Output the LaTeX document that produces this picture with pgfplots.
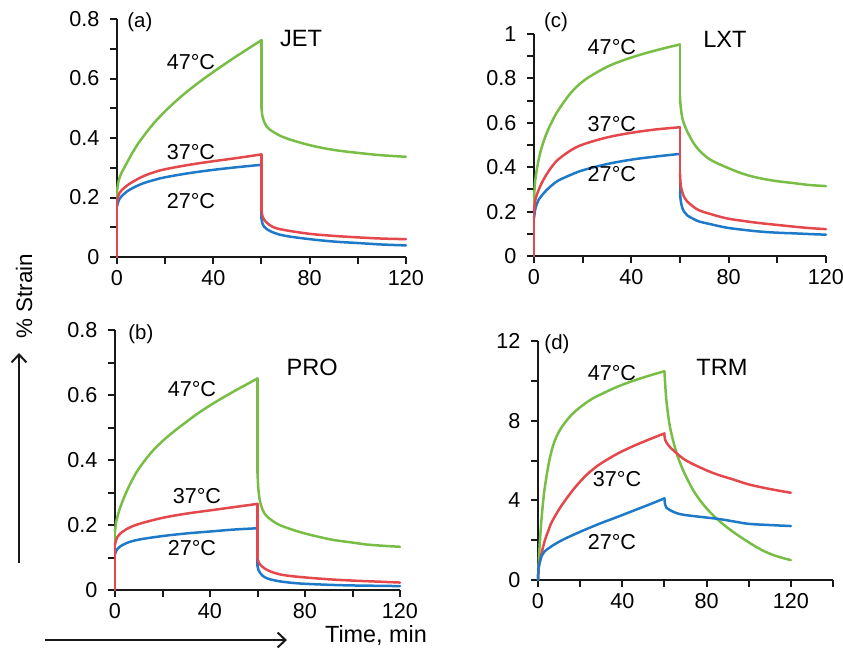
\documentclass[border=0pt]{standalone}
\usepackage{fontspec}
\setmainfont{Liberation Sans}
\usepackage{pgfplots}
\pgfplotsset{compat=1.18}
\usetikzlibrary{arrows.meta}

\definecolor{c47}{RGB}{120,190,70}
\definecolor{c37}{RGB}{228,72,76}
\definecolor{c27}{RGB}{30,122,200}

\pgfplotsset{
  panel/.style={
    scale only axis, axis lines*=left, tick align=outside,
    xmin=0, xmax=120, ymin=0,
    xtick={0,40,80,120}, minor xtick={20,60,100},
    major tick length=3.3pt, minor tick length=3.3pt,
    tick style={line width=1pt, black!90},
    axis line style={line width=1pt, black!90},
    tick label style={font=\fontsize{10.8}{12}\selectfont},
    yticklabel style={xshift=-2pt},
    /pgf/number format/assume math mode=true,
    clip=false, anchor=south west,
  },
  curve/.style={line width=1.25pt, line cap=round, line join=round, no markers},
  sm/.style={curve, smooth, tension=0.6},
}
\newcommand{\lbl}{\fontsize{10.8}{12}\selectfont}
\newcommand{\ttl}{\fontsize{11.8}{13}\selectfont}
\newcommand{\tg}{\fontsize{10.2}{11}\selectfont}

\begin{document}
\begin{tikzpicture}
\useasboundingbox (0,0) rectangle (421.5pt,-325pt);

% (a) JET
\begin{axis}[panel, at={(58.5pt,-128.5pt)}, width=144.5pt, height=119pt,
  ymax=0.8, ytick={0,0.2,0.4,0.6,0.8}, minor ytick={0.1,0.3,0.5,0.7}]
% 47 C
\addplot[curve, c47] coordinates {(0,0) (0,0.22)};
\addplot[sm, c47] coordinates {
 (0,0.22) (0.5,0.25) (1,0.265) (2,0.285) (3,0.30) (5,0.33) (7.5,0.365)
 (10,0.395) (15,0.447) (20,0.49) (25,0.528) (30,0.562) (35,0.593) (40,0.622)
 (45,0.65) (50,0.677) (55,0.703) (60,0.729)};
\addplot[curve, c47] coordinates {(60,0.729) (60,0.50)};
\addplot[sm, c47] coordinates {
 (60,0.50) (60.5,0.47) (62,0.44) (65,0.42) (70,0.40) (80,0.376) (90,0.36)
 (100,0.35) (110,0.342) (120,0.337)};
% 27 C
\addplot[curve, c27] coordinates {(0,0) (0,0.17)};
\addplot[sm, c27] coordinates {
 (0,0.17) (0.5,0.185) (1,0.195) (2,0.205) (5,0.225) (10,0.245) (15,0.258)
 (20,0.268) (30,0.282) (40,0.293) (50,0.302) (60,0.31)};
\addplot[curve, c27] coordinates {(60,0.31) (60,0.13)};
\addplot[sm, c27] coordinates {
 (60,0.13) (60.5,0.11) (62,0.095) (65,0.082) (70,0.071) (80,0.06) (90,0.052)
 (100,0.047) (110,0.042) (120,0.039)};
% 37 C
\addplot[curve, c37] coordinates {(0,0) (0,0.19)};
\addplot[sm, c37] coordinates {
 (0,0.19) (0.5,0.205) (1,0.215) (2,0.225) (5,0.245) (10,0.268) (15,0.284)
 (20,0.295) (30,0.31) (40,0.322) (50,0.333) (60,0.345)};
\addplot[curve, c37] coordinates {(60,0.345) (60,0.16)};
\addplot[sm, c37] coordinates {
 (60,0.16) (60.5,0.135) (62,0.117) (65,0.1) (70,0.09) (80,0.078) (90,0.071)
 (100,0.066) (110,0.062) (120,0.06)};
\node[font=\tg] at (9.5,0.79) {(a)};
\node[font=\ttl] at (76.4,0.733) {JET};
\node[font=\lbl] at (30.7,0.655) {47°C};
\node[font=\lbl] at (30.7,0.353) {37°C};
\node[font=\lbl] at (30.7,0.188) {27°C};
\end{axis}

% (c) LXT
\begin{axis}[panel, at={(267pt,-128pt)}, width=146pt, height=111pt,
  ymax=1, ytick={0,0.2,0.4,0.6,0.8,1}, minor ytick={0.1,0.3,0.5,0.7,0.9}]
% 47 C
\addplot[curve, c47] coordinates {(0,0) (0,0.26)};
\addplot[sm, c47] coordinates {
 (0,0.26) (0.5,0.34) (1,0.38) (2,0.438) (3,0.483) (5,0.548) (7.5,0.608)
 (10,0.657) (15,0.733) (20,0.786) (25,0.822) (30,0.852) (35,0.875) (40,0.894)
 (45,0.911) (50,0.926) (55,0.94) (60,0.953)};
\addplot[curve, c47] coordinates {(60,0.953) (60,0.72)};
\addplot[sm, c47] coordinates {
 (60,0.72) (60.3,0.67) (61,0.62) (62,0.585) (63,0.56) (65.5,0.51) (68,0.475)
 (72.3,0.435) (79,0.40) (86,0.37) (93,0.35) (100,0.337) (107,0.328) (113,0.32) (120,0.315)};
% 27 C
\addplot[curve, c27] coordinates {(0,0) (0,0.17)};
\addplot[sm, c27] coordinates {
 (0,0.17) (0.5,0.21) (1,0.23) (2,0.255) (3,0.27) (5,0.295) (7.5,0.32)
 (10,0.34) (15,0.365) (20,0.386) (30,0.414) (40,0.434) (50,0.448) (60,0.46)};
\addplot[curve, c27] coordinates {(60,0.46) (60,0.29)};
\addplot[sm, c27] coordinates {
 (60,0.29) (60.3,0.25) (61,0.215) (62,0.195) (63,0.183) (65.5,0.167) (68,0.155)
 (72.3,0.144) (79,0.128) (86,0.118) (93,0.11) (100,0.105) (107,0.102) (113,0.099) (120,0.096)};
% 37 C
\addplot[curve, c37] coordinates {(0,0) (0,0.2)};
\addplot[sm, c37] coordinates {
 (0,0.2) (0.5,0.25) (1,0.27) (2,0.3) (3,0.325) (5,0.365) (7.5,0.405)
 (10,0.435) (15,0.475) (20,0.502) (30,0.534) (40,0.555) (50,0.57) (60,0.58)};
\addplot[curve, c37] coordinates {(60,0.58) (60,0.37)};
\addplot[sm, c37] coordinates {
 (60,0.37) (60.3,0.32) (61,0.285) (62,0.26) (63,0.245) (65.5,0.222) (68,0.205)
 (72.3,0.19) (79,0.17) (86,0.158) (93,0.148) (100,0.14) (107,0.132) (113,0.126) (120,0.121)};
\node[font=\tg] at (9,1.054) {(c)};
\node[font=\ttl] at (78.5,0.977) {LXT};
\node[font=\lbl] at (32,0.94) {47°C};
\node[font=\lbl] at (32,0.595) {37°C};
\node[font=\lbl] at (32,0.37) {27°C};
\end{axis}

% (b) PRO
\begin{axis}[panel, at={(57.5pt,-295pt)}, width=142.5pt, height=130pt,
  ymax=0.8, ytick={0,0.2,0.4,0.6,0.8}, minor ytick={0.1,0.3,0.5,0.7}]
% 47 C
\addplot[curve, c47] coordinates {(0,0) (0,0.18)};
\addplot[sm, c47] coordinates {
 (0,0.18) (0.5,0.21) (1,0.225) (2,0.25) (3,0.27) (5,0.305) (7.5,0.342)
 (10,0.373) (15,0.421) (20,0.458) (25,0.489) (30,0.517) (35,0.544) (40,0.568)
 (45,0.59) (50,0.611) (55,0.631) (60,0.651)};
\addplot[curve, c47] coordinates {(60,0.651) (60,0.36)};
\addplot[sm, c47] coordinates {
 (60,0.36) (60.5,0.3) (61.5,0.26) (63,0.235) (65,0.22) (68,0.205) (71,0.195)
 (78,0.178) (85,0.165) (92,0.154) (100,0.146) (106,0.14) (113,0.136) (120,0.133)};
% 27 C
\addplot[curve, c27] coordinates {(0,0) (0,0.11)};
\addplot[sm, c27] coordinates {
 (0,0.11) (0.5,0.12) (1,0.126) (2,0.133) (5,0.145) (10,0.155) (20,0.166)
 (30,0.174) (40,0.18) (50,0.186) (60,0.19)};
\addplot[curve, c27] coordinates {(60,0.19) (60,0.075)};
\addplot[sm, c27] coordinates {
 (60,0.075) (60.5,0.06) (62,0.045) (64,0.036) (67,0.03) (71,0.025) (78,0.02)
 (90,0.016) (100,0.014) (110,0.013) (120,0.012)};
% 37 C
\addplot[curve, c37] coordinates {(0,0) (0,0.14)};
\addplot[sm, c37] coordinates {
 (0,0.14) (0.5,0.155) (1,0.163) (2,0.172) (5,0.188) (10,0.203) (20,0.222)
 (30,0.235) (40,0.245) (50,0.255) (60,0.265)};
\addplot[curve, c37] coordinates {(60,0.265) (60,0.1)};
\addplot[sm, c37] coordinates {
 (60,0.1) (60.5,0.085) (62,0.072) (64,0.062) (67,0.053) (71,0.046) (78,0.04)
 (90,0.033) (100,0.029) (110,0.026) (120,0.023)};
\node[font=\tg] at (10.9,0.788) {(b)};
\node[font=\ttl] at (83,0.686) {PRO};
\node[font=\lbl] at (32.4,0.618) {47°C};
\node[font=\lbl] at (34.5,0.289) {37°C};
\node[font=\lbl] at (32.4,0.129) {27°C};
\end{axis}

% (d) TRM
\begin{axis}[panel, at={(269pt,-290pt)}, width=147.5pt, height=119.5pt,
  xmax=140, minor xtick={20,60,100,140},
  ymax=12, ytick={0,4,8,12}, minor ytick={2,6,10}]
% 47 C
\addplot[sm, c47] coordinates {
 (0,0) (0.5,1.2) (1,2.1) (1.7,3.1) (2.5,4.0) (3.3,4.7) (5,5.8) (6.5,6.5) (8,7.0)
 (10.5,7.55) (14.3,8.1) (18,8.5) (22.2,8.85) (26,9.12) (30,9.33) (38,9.72)
 (46,10.03) (54,10.3) (60,10.48)};
\addplot[sm, c47] coordinates {
 (60,10.48) (60.5,9.6) (61,8.95) (62,8.1) (63,7.5) (65,6.65) (67,6.0)
 (70,5.25) (74,4.45) (78,3.85) (82,3.37) (86,2.97) (90,2.62) (94,2.31) (98,2.03)
 (102,1.76) (106,1.52) (110,1.32) (115,1.14) (120,1.0)};
% 37 C
\addplot[sm, c37] coordinates {
 (0,0) (0.3,0.6) (1,1.0) (1.7,1.35) (3.3,2.0) (5,2.5) (6.5,2.9) (10,3.55)
 (14.3,4.2) (18,4.7) (22.2,5.19) (26,5.55) (30,5.86) (38,6.36) (46,6.76)
 (54,7.11) (60,7.36)};
\addplot[sm, c37] coordinates {
 (60,7.36) (60.3,7.05) (62,6.75) (65,6.44) (70,6.02) (78,5.6) (85,5.3)
 (93.5,5.02) (100,4.8) (110,4.57) (120,4.38)};
% 27 C
\addplot[sm, c27] coordinates {
 (0,0) (0.3,0.6) (1,0.95) (1.7,1.2) (3,1.42) (6.5,1.7) (10,1.92) (14.3,2.15)
 (22.2,2.52) (30,2.86) (38,3.18) (46,3.51) (54,3.84) (60,4.1)};
\addplot[sm, c27] coordinates {
 (60,4.1) (60.3,3.8) (61,3.62) (62.6,3.51) (66,3.35) (70,3.26) (78,3.16)
 (86,3.06) (93.5,2.93) (100,2.82) (110,2.76) (120,2.71)};
\node[font=\tg] at (9,11.85) {(d)};
\node[font=\ttl] at (87.3,10.69) {TRM};
\node[font=\lbl] at (35.1,10.39) {47°C};
\node[font=\lbl] at (37.5,5.07) {37°C};
\node[font=\lbl] at (35.1,1.91) {27°C};
\end{axis}

% shared axis arrows
\draw[line width=1pt, black!90, -{Straight Barb[length=4pt,width=7.5pt]}]
  (9.5pt,-281.5pt) -- (9.5pt,-176.5pt);
\node[font=\fontsize{11.2}{13}\selectfont, rotate=90] at (12pt,-148pt) {\% Strain};
\draw[line width=1pt, black!90, -{Straight Barb[length=4pt,width=7.5pt]}]
  (22.5pt,-320pt) -- (143.5pt,-320pt);
\node[font=\fontsize{11.7}{13}\selectfont] at (188pt,-318pt) {Time, min};
\end{tikzpicture}
\end{document}
